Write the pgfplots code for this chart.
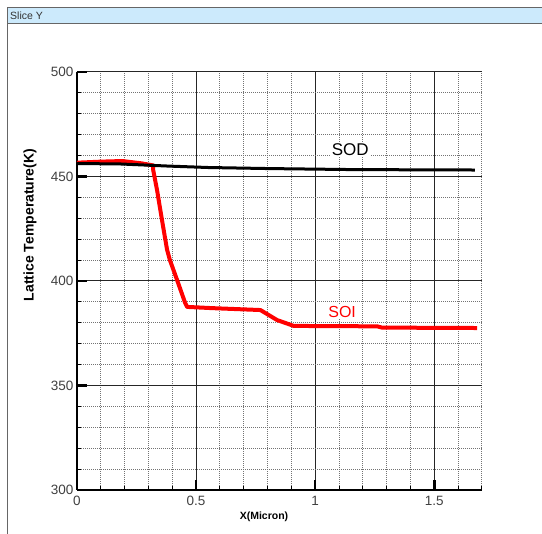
\documentclass[border=0pt]{standalone}
\usepackage{pgfplots}
\pgfplotsset{compat=1.18}
\usepackage{fontspec}
\setmainfont{Liberation Sans}
\definecolor{titlebar}{RGB}{204,234,252}
\begin{document}
\begin{tikzpicture}[x=1pt,y=1pt]
\useasboundingbox (0,0) rectangle (542,534);
\fill[white] (0,0) rectangle (542,534);
% window frame
\draw[fill=titlebar, draw=black!60, line width=1] (7,526) rectangle (545,510);
\draw[black!60, line width=1] (7,510) -- (7,-2);
\node[anchor=west, font=\fontsize{10.5}{10.5}\selectfont, inner sep=0, text=black!80] at (10,518) {Slice Y};

\begin{axis}[
    at={(77pt,44pt)}, anchor=south west,
    scale only axis, width=405pt, height=418pt,
    xmin=0, xmax=1.7, ymin=300, ymax=500,
    axis lines*=left,
    axis line style={line width=2.5pt},
    xtick={0,0.5,1,1.5}, ytick={300,350,400,450,500},
    minor xtick={0.1,0.2,0.3,0.4,0.6,0.7,0.8,0.9,1.1,1.2,1.3,1.4,1.6,1.7},
    minor ytick={310,320,330,340,360,370,380,390,410,420,430,440,460,470,480,490},
    xticklabels={0,0.5,1,1.5},
    yticklabels={300,350,400,450,500},
    tick align=inside,
    major tick length=10pt, minor tick length=4pt,
    major tick style={line width=2.5pt, black},
    minor tick style={line width=1pt, black},
    grid=both,
    major grid style={black!85, line width=1pt},
    minor grid style={black!55, line width=1pt, densely dotted},
    tick label style={font=\fontsize{13.5}{13.5}\selectfont, text=black!75},
    xticklabel style={yshift=-3pt},
    /pgf/number format/assume math mode=true,
]
\addplot[red, line width=4pt, line join=round] coordinates {
    (0,456.6) (0.1,457.1) (0.19,457.4) (0.27,456.3) (0.32,455.3) (0.32,453)
    (0.336,443.5) (0.357,429) (0.378,415) (0.39,410) (0.42,400.5) (0.454,389.5)
    (0.462,387.6) (0.57,387) (0.77,386.1) (0.84,381.3) (0.91,378.5) (1.26,378.3)
    (1.28,377.7) (1.68,377.5)
};
\addplot[black, line width=3pt] coordinates {
    (0,456.2) (0.18,456) (0.38,455) (0.55,454.3) (0.8,453.8) (1.16,453.3) (1.67,453.1)
};
\node[font=\fontsize{17}{17}\selectfont, fill=white, inner sep=1pt] at (axis cs:1.147,462.7) {SOD};
\node[font=\fontsize{16}{16}\selectfont, text=red, fill=white, inner sep=1pt] at (axis cs:1.113,385.2) {SOI};
\end{axis}

\node[rotate=90, font=\bfseries\fontsize{14}{14}\selectfont] at (30,309) {Lattice Temperature(K)};
\node[font=\bfseries\fontsize{10.5}{10.5}\selectfont] at (264,17) {X(Micron)};
\end{tikzpicture}
\end{document}
